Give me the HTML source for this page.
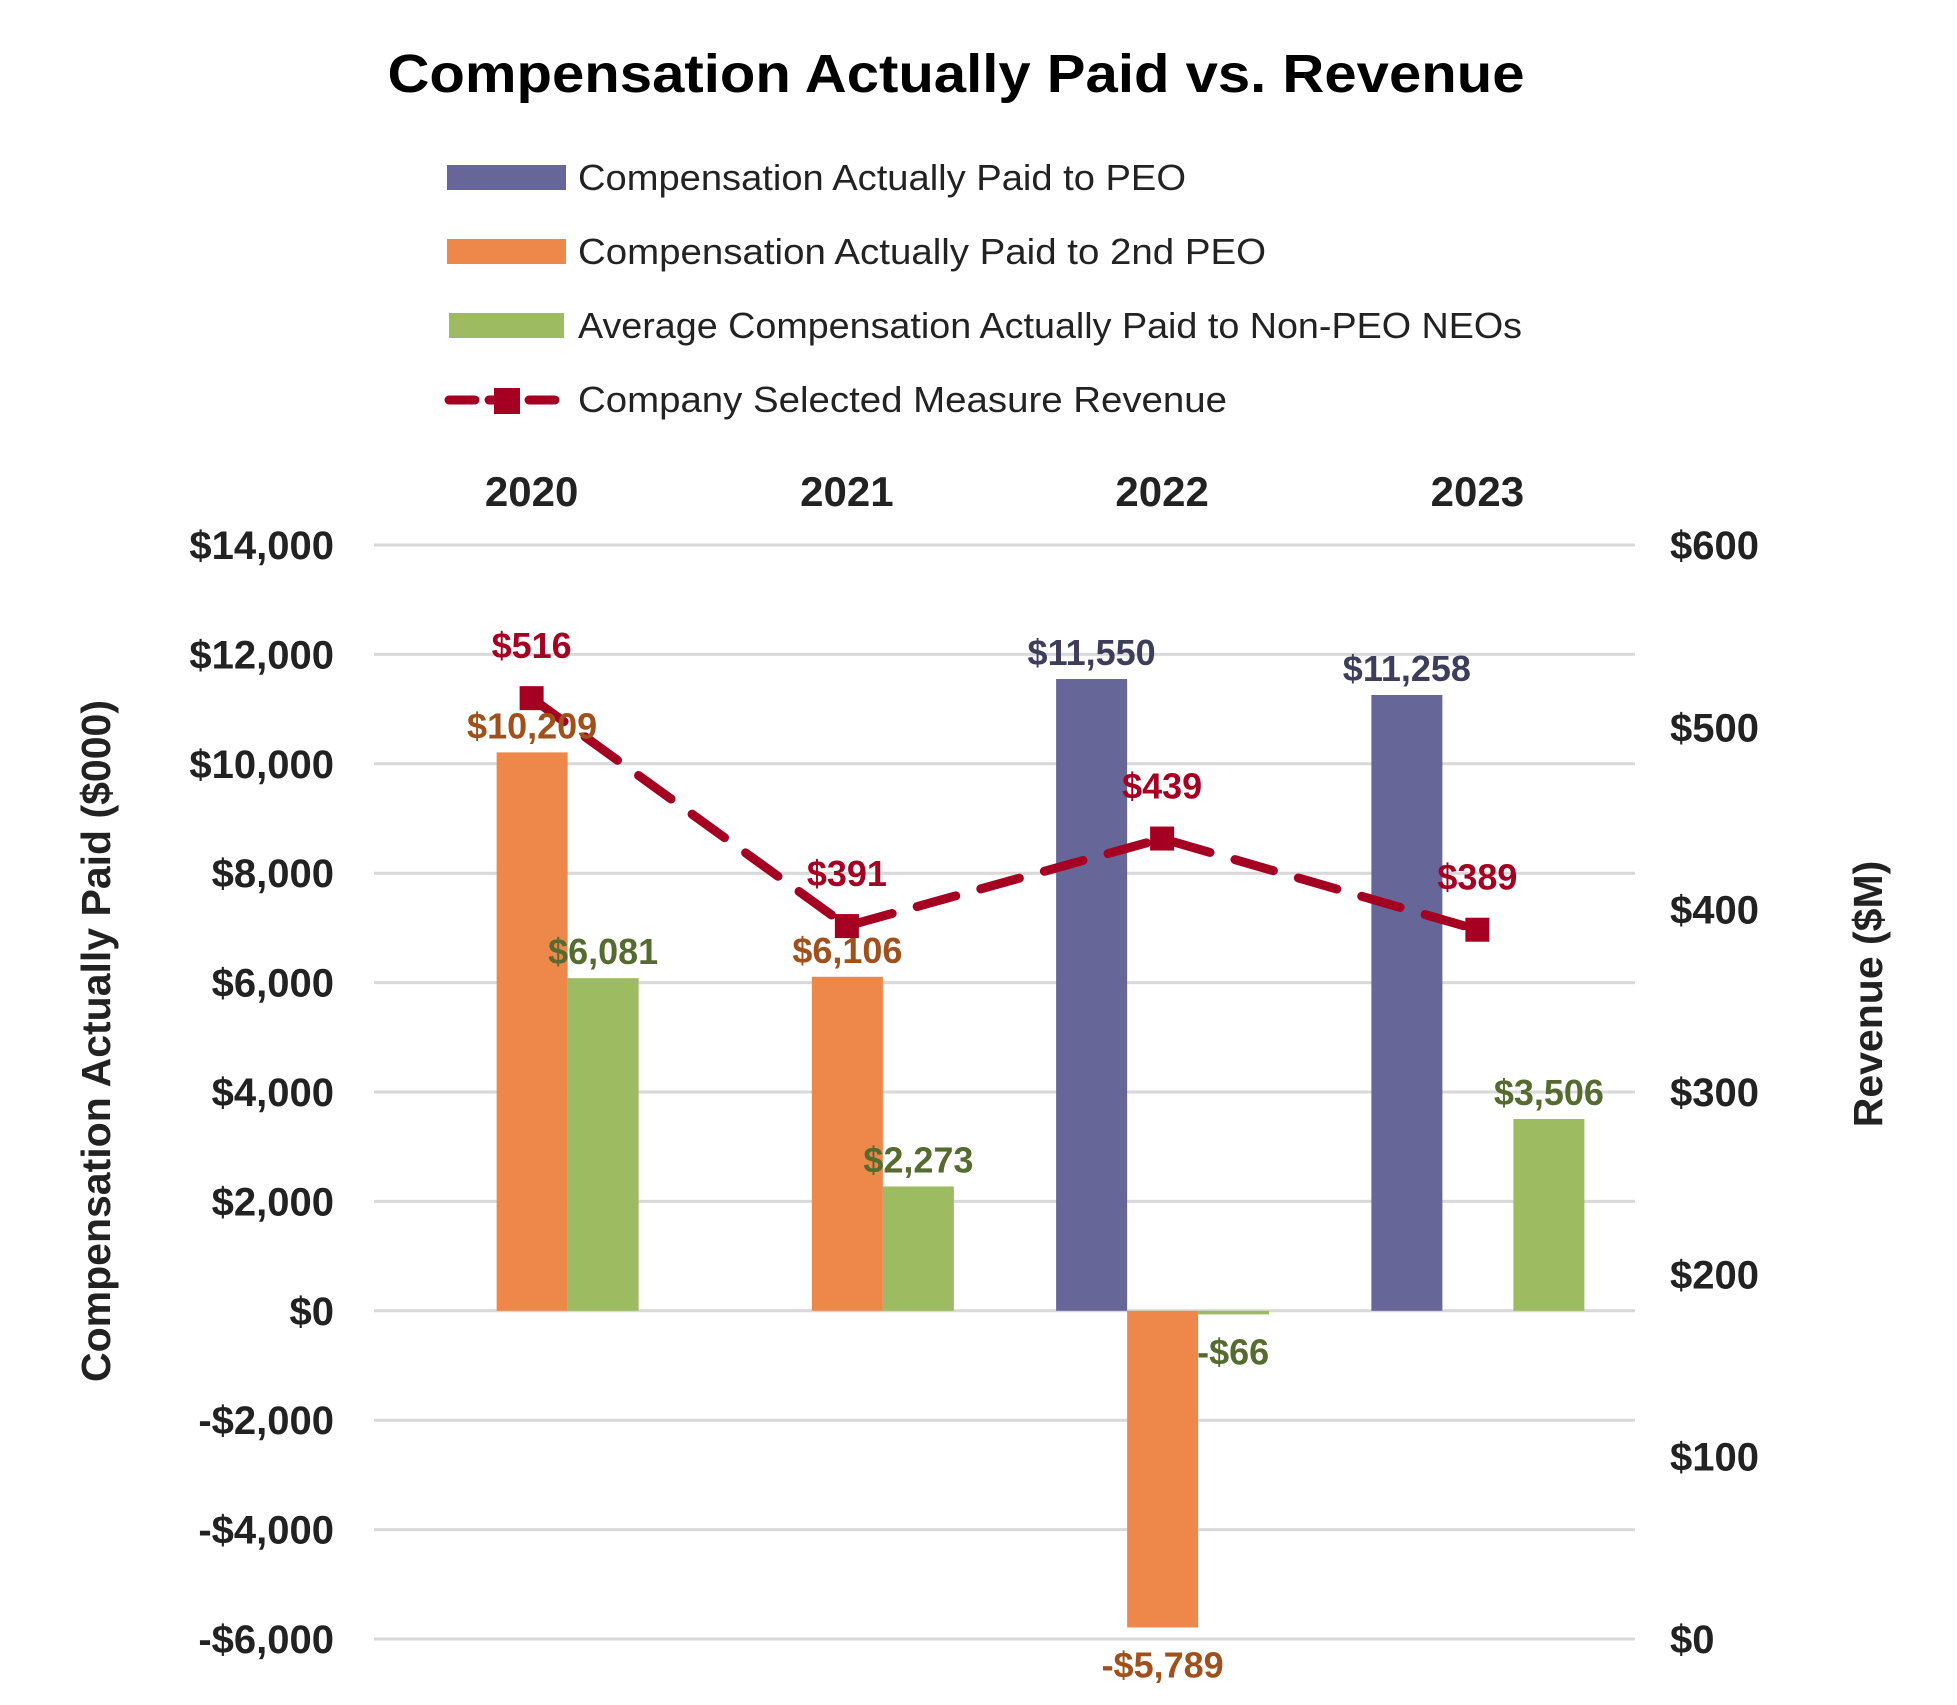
<!DOCTYPE html>
<html><head><meta charset="utf-8"><style>
body{margin:0;background:#fff;}
svg text{font-family:"Liberation Sans",sans-serif;}
</style></head><body>
<svg id="chart" width="1957" height="1700" viewBox="0 0 1957 1700" xmlns="http://www.w3.org/2000/svg">
<text x="956" y="92" text-anchor="middle" font-size="54" font-weight="bold" fill="#000" textLength="1137" lengthAdjust="spacingAndGlyphs">Compensation Actually Paid vs. Revenue</text>
<g>
<rect x="447" y="165" width="119" height="25" fill="#666699"/>
<text x="578" y="190" font-size="36" fill="#222" textLength="608" lengthAdjust="spacingAndGlyphs">Compensation Actually Paid to PEO</text>
<rect x="447" y="239" width="119" height="25" fill="#ee884a"/>
<text x="578" y="264" font-size="36" fill="#222" textLength="688" lengthAdjust="spacingAndGlyphs">Compensation Actually Paid to 2nd PEO</text>
<rect x="449" y="313" width="115" height="25" fill="#9dbb61"/>
<text x="578" y="338" font-size="36" fill="#222" textLength="944" lengthAdjust="spacingAndGlyphs">Average Compensation Actually Paid to Non-PEO NEOs</text>
<line x1="449" y1="400" x2="558" y2="400" stroke="#a50021" stroke-width="9" stroke-dasharray="26,14" stroke-linecap="round"/>
<rect x="494" y="388" width="26" height="26" fill="#a50021"/>
<text x="578" y="412" font-size="36" fill="#222" textLength="649" lengthAdjust="spacingAndGlyphs">Company Selected Measure Revenue</text>
</g>
<g id="grid"></g>
<g id="bars"></g>
<g id="line"></g>
<g id="labels"></g>
<text transform="translate(110,1041) rotate(-90)" text-anchor="middle" font-size="41" font-weight="bold" fill="#222">Compensation Actually Paid ($000)</text>
<text transform="translate(1882,994) rotate(-90)" text-anchor="middle" font-size="41" font-weight="bold" fill="#222">Revenue ($M)</text>
</svg>
<script>
const categories=["2020","2021","2022","2023"];
const peo=[null,null,11550,11258];
const peo2=[10209,6106,-5789,null];
const nonPeo=[6081,2273,-66,3506];
const revenue=[516,391,439,389];
const leftTicks=[14000,12000,10000,8000,6000,4000,2000,0,-2000,-4000,-6000];
const rightTicks=[600,500,400,300,200,100,0];
const NS="http://www.w3.org/2000/svg";
const L=374,R=1635,T=545,B=1639;
function yL(v){return B-(v+6000)/20000*(B-T);}
function yR(v){return B-v/600*(B-T);}
function xC(i){return L+(i+0.5)*(R-L)/categories.length;}
function mk(tag,attrs,parent){const e=document.createElementNS(NS,tag);for(const k in attrs)e.setAttribute(k,attrs[k]);document.getElementById(parent).appendChild(e);return e;}
function fmt(v){return (v<0?"-$":"$")+Math.abs(v).toLocaleString("en-US");}
leftTicks.forEach(v=>{
 const g=mk("line",{x1:L,x2:R,y1:yL(v),y2:yL(v),stroke:"#d9d9d9","stroke-width":3},"grid");
 
 
 const t=mk("text",{x:334,y:yL(v)+14,"text-anchor":"end","font-size":40,"font-weight":"bold",fill:"#222"},"grid");
 t.textContent=fmt(v);
 
 
});
rightTicks.forEach(v=>{
 const t=mk("text",{x:1670,y:yR(v)+14,"font-size":40,"font-weight":"bold",fill:"#222"},"grid");
 t.textContent="$"+v;
 
 
});
categories.forEach((c,i)=>{
 const t=mk("text",{x:xC(i),y:506,"text-anchor":"middle","font-size":42,"font-weight":"bold",fill:"#222"},"grid");
 t.textContent=c;
 
 
});
const series=[{d:peo,c:"#666699",lc:"#3d3d5c",off:-106,n:"peo"},{d:peo2,c:"#ee884a",lc:"#a0501a",off:-35,n:"2nd-peo"},{d:nonPeo,c:"#9dbb61",lc:"#556b2f",off:36,n:"non-peo"}];
const W=71;
series.forEach(s=>{
 s.d.forEach((v,i)=>{
  if(v===null)return;
  const x=xC(i)+s.off, y0=yL(0), y1=yL(v);
  const r=mk("rect",{x:x,y:Math.min(y0,y1),width:W,height:Math.max(Math.abs(y1-y0),3),fill:s.c},"bars");
  
  
  const ly=v>=0?y1-14:y1+50;
  const lx=(s.n==="non-peo"&&v<0)?x+35:x+W/2;
  const t=mk("text",{x:lx,y:ly,"text-anchor":"middle","font-size":36,"font-weight":"bold",fill:s.lc},"labels");
  t.textContent=fmt(v);
  
  
 });
});
const pts=revenue.map((v,i)=>xC(i)+","+yR(v)).join(" ");
const pl=mk("polyline",{points:pts,fill:"none",stroke:"#a50021","stroke-width":9,"stroke-dasharray":"40,26","stroke-linecap":"round"},"line");


revenue.forEach((v,i)=>{
 const m=mk("rect",{x:xC(i)-12,y:yR(v)-12,width:24,height:24,fill:"#a50021"},"line");
 
 
 const t=mk("text",{x:xC(i),y:yR(v)-40,"text-anchor":"middle","font-size":36,"font-weight":"bold",fill:"#a50021"},"labels");
 t.textContent="$"+v;
 
 
});
</script>
</body></html>
